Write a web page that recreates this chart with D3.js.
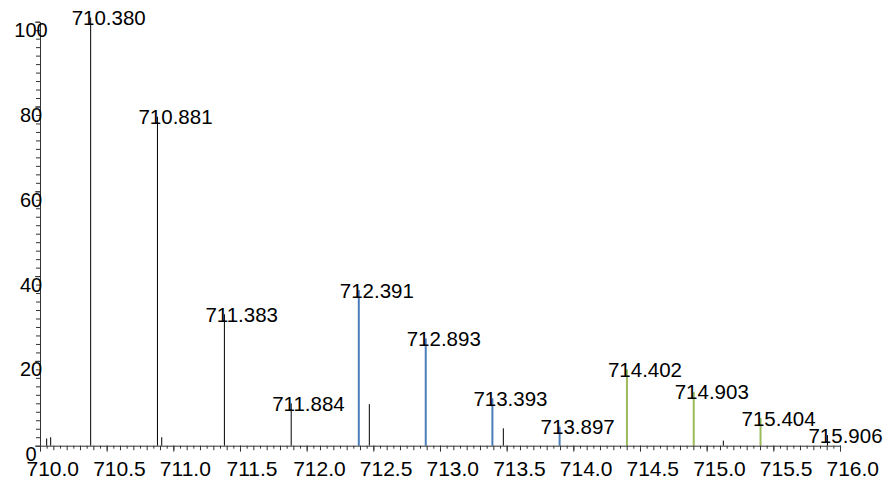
<!DOCTYPE html>
<html>
<head>
<meta charset="utf-8">
<script src="https://cdn.jsdelivr.net/npm/d3@7"></script>
<style>
  html, body { margin: 0; padding: 0; background: #fff; }
  svg { display: block; font-family: "Liberation Sans", Arial, sans-serif; }
</style>
</head>
<body>
<svg id="chart" width="894" height="482"></svg>
<script>
// ---- data ----
const blackMz    = [710.050, 710.080, 710.380, 710.881, 710.913, 711.383, 711.884, 712.470, 713.475, 715.125, 715.906];
const blackInt   = [1.7, 2.0, 101.0, 77.6, 2.0, 31.0, 10.0, 9.8, 4.1, 1.2, 2.5];
const blueMz     = [712.391, 712.893, 713.393, 713.897];
const blueInt    = [36.7, 25.3, 11.2, 4.5];
const greenMz    = [714.402, 714.903, 715.404];
const greenInt   = [18.0, 12.7, 6.5];
const labelMz    = [710.380, 710.881, 711.383, 711.884, 712.391, 712.893, 713.393, 713.897, 714.402, 714.903, 715.404, 715.906];
const xTickVals  = [710.0, 710.5, 711.0, 711.5, 712.0, 712.5, 713.0, 713.5, 714.0, 714.5, 715.0, 715.5, 716.0];
const yTickVals  = [0, 20, 40, 60, 80, 100];

// ---- layout ----
const svg = d3.select("#chart");
const x = d3.scaleLinear().domain([710, 716]).range([40, 840]);
const y = d3.scaleLinear().domain([0, 100]).range([445.7, 21.7]);
const axisColor = "#333";
const fontSize = 21;
const labelFontSize = 20.5;
const yFontSize = 20;

// peaks
const series = [
  {mz: blackMz, v: blackInt, color: "#000000", w: 1},
  {mz: blueMz,  v: blueInt,  color: "#4a7ebb", w: 2},
  {mz: greenMz, v: greenInt, color: "#9bbb59", w: 2}
];
const allPeaks = [];
series.forEach(s => {
  const data = s.mz.map((m, i) => ({mz: m, v: s.v[i]}));
  data.forEach(d => allPeaks.push(d));
  svg.append("g").selectAll("line").data(data).join("line")
    .attr("x1", d => x(d.mz)).attr("x2", d => x(d.mz))
    .attr("y1", y(0)).attr("y2", d => y(d.v))
    .attr("stroke", s.color).attr("stroke-width", s.w);
});

// x axis: minor ticks
const minor = d3.range(0, 121).map(i => 710 + i * 0.05);
svg.append("g").attr("transform", `translate(0,${y(0)})`)
  .call(d3.axisBottom(x).tickValues(minor.filter((d, i) => i % 2 === 1)).tickSize(3).tickFormat(""))
  .call(g => g.select(".domain").remove())
  .selectAll("line").attr("stroke", axisColor);
svg.append("g").attr("transform", `translate(0,${y(0)})`)
  .call(d3.axisBottom(x).tickValues(minor.filter((d, i) => i % 2 === 0)).tickSize(4.5).tickFormat(""))
  .call(g => g.select(".domain").remove())
  .selectAll("line").attr("stroke", axisColor);
const xg = svg.append("g").attr("transform", `translate(0,${y(0)})`)
  .call(d3.axisBottom(x).tickValues(xTickVals).tickSize(6).tickSizeOuter(0).tickFormat(d3.format(".1f")));
xg.select(".domain").attr("stroke", axisColor);
xg.selectAll("line").attr("stroke", axisColor);
xg.selectAll("text")
  .attr("font-size", fontSize).attr("font-family", "Liberation Sans, Arial, sans-serif")
  .attr("fill", "#000").attr("text-anchor", "start")
  .attr("x", -14).attr("y", 476.5 - 445.7).attr("dy", 0);

// y axis
svg.append("g").attr("transform", `translate(${x(710)},0)`)
  .call(d3.axisLeft(y).tickValues(d3.range(0, 101, 2)).tickSize(4).tickFormat(""))
  .call(g => g.select(".domain").remove())
  .selectAll("line").attr("stroke", axisColor);
const yg = svg.append("g").attr("transform", `translate(${x(710)},0)`)
  .call(d3.axisLeft(y).tickValues(yTickVals).tickSize(5).tickSizeOuter(0).tickFormat(d3.format("d")));
yg.select(".domain").attr("stroke", axisColor);
yg.selectAll("line").attr("stroke", axisColor);
yg.selectAll("text")
  .attr("font-size", yFontSize).attr("font-family", "Liberation Sans, Arial, sans-serif")
  .attr("fill", "#000").attr("text-anchor", "middle")
  .attr("x", -9).attr("y", 15).attr("dy", 0);

// peak labels
const labelData = labelMz.map(m => allPeaks.find(p => Math.abs(p.mz - m) < 1e-6));
svg.append("g").selectAll("text").data(labelData).join("text")
  .attr("x", d => x(d.mz) - 19)
  .attr("y", d => y(d.v) + 7.5)
  .attr("font-size", labelFontSize)
  .attr("fill", "#000")
  .text(d => d.mz.toFixed(3));
</script>
</body>
</html>
